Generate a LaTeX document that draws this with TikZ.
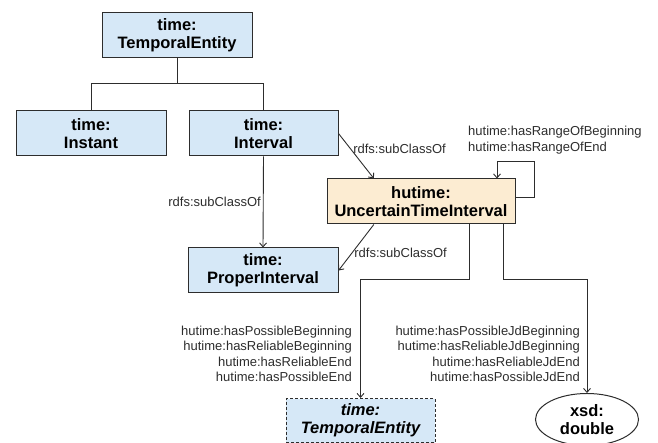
\documentclass[tikz,border=0pt]{standalone}
\usepackage{fontspec}
\setmainfont{Liberation Sans}
\usetikzlibrary{positioning,
        shapes,
        arrows.meta}
\usepackage{xcolor}
\definecolor{boxblue}{RGB}{214,232,247}
\definecolor{boxorange}{RGB}{252,236,210}
\definecolor{linegray}{RGB}{45,45,45}

\begin{document}
\begin{tikzpicture}[x=1pt,y=1pt,
        cls/.style={rectangle,draw=linegray,line width=1pt,fill=boxblue,minimum width=150pt,minimum height=45pt,align=center,font=\fontsize{16.5}{18}\selectfont\bfseries},
        lbl/.style={font=\fontsize{13}{15.5}\selectfont,text=linegray,inner sep=2pt},
        rel/.style={draw=linegray,line width=0.9pt,-{Straight Barb[length=4pt,width=7pt]}}]
        \useasboundingbox (0,0) rectangle (658,-443);

        \node [cls] (1) at (177,-35.5) {time:\\TemporalEntity};
        \node [cls] (2) at (91,-133.5) {time:\\Instant};
        \node [cls,minimum width=149pt] (3) at (263.5,-133.5) {time:\\Interval};
        \node [cls] (4) at (263,-270.5) {time:\\ProperInterval};
        \node [cls,fill=boxorange,minimum width=188pt] (5) at (421,-201.5) {hutime:\\UncertainTimeInterval};
        \node [cls,dash pattern=on 3pt off 2pt,minimum width=149pt,minimum height=44pt,font=\fontsize{16.5}{18}\selectfont\bfseries\itshape] (6) at (360.5,-420.5) {time:\\TemporalEntity};
        \node [ellipse,draw=linegray,line width=1pt,fill=white,minimum width=103pt,minimum height=44pt,align=center,font=\fontsize{16.5}{18}\selectfont\bfseries] (7) at (587,-419.5) {xsd:\\double};

        \draw [linegray,line width=0.9pt] (1.south) -- ++(0,-25) -| (2.north);
        \draw [linegray,line width=0.9pt] (1.south) -- ++(0,-25) -| (3.north);
        \draw [rel] (3.south) -- node [lbl,left] {rdfs:subClassOf} (4.north);
        \draw [rel] (3.east) -- node [lbl,pos=0.35,right] {rdfs:subClassOf} (5.154);
        \draw [rel] (5.206) -- node [lbl,pos=0.62,right] {rdfs:subClassOf} (4.east);
        \draw [rel] ([yshift=4pt]5.east) -- ++(19,0) -- ++(0,36) -| ([xshift=76pt]5.north);
        \draw [rel] ([xshift=48pt]5.south) -- ++(0,-55) -| (6.north);
        \draw [rel] ([xshift=82pt]5.south) -- ++(0,-55) -| (7.north);

        \node [lbl,anchor=west,align=left] (8) at (466,-140) {hutime:hasRangeOfBeginning\\hutime:hasRangeOfEnd};
        \node [lbl,anchor=east,align=right] (9) at (354,-354) {hutime:hasPossibleBeginning\\hutime:hasReliableBeginning\\hutime:hasReliableEnd\\hutime:hasPossibleEnd};
        \node [lbl,anchor=east,align=right] (10) at (582,-354) {hutime:hasPossibleJdBeginning\\hutime:hasReliableJdBeginning\\hutime:hasReliableJdEnd\\hutime:hasPossibleJdEnd};
    \end{tikzpicture}
\end{document}
